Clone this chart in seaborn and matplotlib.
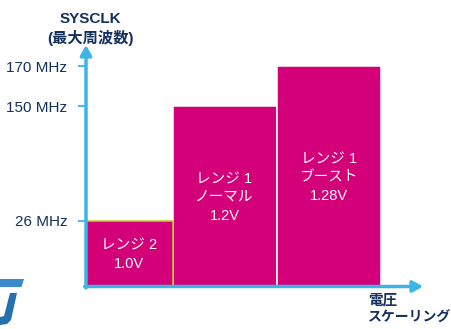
import numpy as np
import pandas as pd
import matplotlib
matplotlib.use('Agg')
import matplotlib.pyplot as plt
import seaborn as sns
from matplotlib.patches import Polygon

# ---------------- data ----------------
ranges = ['レンジ 2\n1.0V', 'レンジ 1\nノーマル\n1.2V', 'レンジ 1\nブースト\n1.28V']
sysclk_mhz = [26, 150, 170]
tick_values = [26, 150, 170]
tick_labels = ['26 MHz', '150 MHz', '170 MHz']
y_title = ['SYSCLK', '(最大周波数)']
x_title = ['電圧', 'スケーリング']

# ---------------- layout / style ----------------
bar_lefts = [0, 86.5, 190.5]
bar_widths = [86.5, 104, 104.5]
MAGENTA = '#D4007A'
BLUE = '#3CB4E6'
NAVY = '#14305E'
LIME = '#B9CF29'

# schematic (non-linear) y scale, piecewise linear
scale_v = [0, 26, 150, 170, 220]
scale_h = [0, 66, 180.5, 220.5, 300]


def fwd(v):
    return np.interp(v, scale_v, scale_h)


def inv(h):
    return np.interp(h, scale_h, scale_v)


sns.set_theme(style='white')
plt.rcParams['font.family'] = ['Liberation Sans', 'Noto Sans CJK JP']

W, H = 451, 329
fig = plt.figure(figsize=(W / 100, H / 100), dpi=100)
ax = fig.add_axes([86 / W, (H - 286.5) / H, (423 - 86) / W, (286.5 - 45) / H])

df = pd.DataFrame({'range': ranges, 'mhz': sysclk_mhz})
sns.barplot(data=df, x='range', y='mhz', color=MAGENTA, saturation=1, ax=ax)
ax.set_yscale('function', functions=(fwd, inv))
ax.set_ylim(0, inv(286.5 - 45))
ax.set_xlim(0, 423 - 86)

edgecols = [LIME, 'white', 'white']
zorders = [3, 2, 2]
for p, l, w, ec, z in zip(ax.patches, bar_lefts, bar_widths, edgecols, zorders):
    p.set_x(l)
    p.set_width(w)
    p.set_edgecolor(ec)
    p.set_linewidth(1.1)
    p.set_zorder(z)

for l, w, v, lab in zip(bar_lefts, bar_widths, sysclk_mhz, ranges):
    ax.text(l + w / 2, inv(fwd(v) / 2 - 1.5), lab, ha='center', va='center',
            color='white', fontsize=10.5, linespacing=1.42, zorder=5,
            multialignment='center')

for s in ax.spines.values():
    s.set_visible(False)
ax.set_xticks([])
ax.set_xlabel('')
ax.set_ylabel('')
ax.set_yticks(tick_values, tick_labels)
ax.minorticks_off()
ax.tick_params(axis='y', left=True, length=6, width=1.3, color=BLUE,
               pad=7.5, labelsize=11, labelcolor=NAVY)

arrow_kw = dict(arrowstyle='-|>,head_length=0.5,head_width=0.28', color=BLUE,
                lw=2.5, shrinkA=0, shrinkB=0)
ax.annotate('', xy=(0, 1), xytext=(0, -0.006), xycoords='axes fraction',
            textcoords='axes fraction', arrowprops=arrow_kw, annotation_clip=False,
            zorder=6)
ax.annotate('', xy=(1, 0), xytext=(-0.004, 0), xycoords='axes fraction',
            textcoords='axes fraction', arrowprops=arrow_kw, annotation_clip=False,
            zorder=6)

# titles
fig.text(90.5 / W, 1 - 19 / H, y_title[0], ha='center', va='center',
         fontsize=11, fontweight='bold', color=NAVY)
fig.text(90 / W, 1 - 38 / H, y_title[1], ha='center', va='center',
         fontsize=11, fontweight='bold', color=NAVY)
fig.text(368 / W, 1 - 301 / H, x_title[0], ha='left', va='center',
         fontsize=10.5, fontweight='bold', color=NAVY)
fig.text(368 / W, 1 - 318 / H, x_title[1], ha='left', va='center',
         fontsize=10, fontweight='bold', color=NAVY)

# logo fragment (bottom-left)
def px(pts):
    return [(x / W, 1 - y / H) for x, y in pts]

fig.add_artist(Polygon(px([(0, 279), (24, 279), (21.5, 287), (0, 287)]),
                       closed=True, transform=fig.transFigure,
                       facecolor='#3A8ACB', edgecolor='none'))
fig.add_artist(Polygon(px([(10, 293), (17, 293), (11, 320), (7, 324), (0, 325),
                           (0, 317), (4, 316)]),
                       closed=True, transform=fig.transFigure,
                       facecolor='#2670B0', edgecolor='none'))

fig.savefig('out.png', dpi=100)
